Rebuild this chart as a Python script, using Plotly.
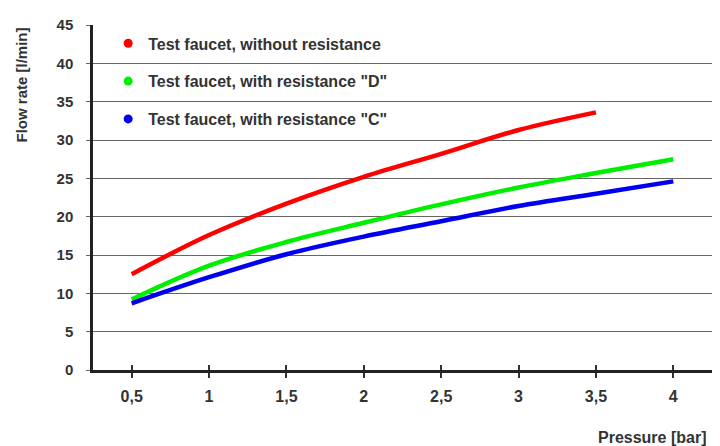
import plotly.graph_objects as go

pressure = [0.5, 1, 1.5, 2, 2.5, 3, 3.5, 4]
tick_labels = ["0,5", "1", "1,5", "2", "2,5", "3", "3,5", "4"]
y_ticks = [0, 5, 10, 15, 20, 25, 30, 35, 40, 45]

red_x = [0.5, 1, 1.5, 2, 2.5, 3, 3.5]
red_y = [12.5, 17.6, 21.7, 25.2, 28.2, 31.3, 33.6]
green_y = [9.2, 13.6, 16.7, 19.2, 21.6, 23.8, 25.7, 27.5]
blue_y = [8.7, 12.1, 15.1, 17.4, 19.4, 21.4, 23.0, 24.6]

names = ["Test faucet, without resistance",
         "Test faucet, with resistance \"D\"",
         "Test faucet, with resistance \"C\""]
colors = ["#ff0000", "#00ee00", "#0000ee"]

FONT = "Liberation Sans, Arial, sans-serif"

fig = go.Figure()
series = [(red_x, red_y), (pressure, green_y), (pressure, blue_y)]
for (xs, ys), c in zip(series, colors):
    fig.add_trace(go.Scatter(x=xs, y=ys, mode="lines", showlegend=False,
                             line=dict(color=c, width=4.5, shape="spline", smoothing=1.0),
                             hoverinfo="skip"))
for i, (n, c) in enumerate(zip(names, colors)):
    fig.add_trace(go.Scatter(x=[None], y=[None], mode="markers", name=n,
                             legendgroup=f"g{i}", xaxis="x2",
                             marker=dict(color=c, size=9)))

fig.update_layout(
    width=712, height=438,
    margin=dict(l=85, r=8, t=15, b=76),
    paper_bgcolor="white", plot_bgcolor="white",
    font=dict(family=FONT, color="#333333", size=15, weight="bold"),
    showlegend=True,
    legend=dict(x=0.0245, y=0.996, xanchor="left", yanchor="top",
                bgcolor="rgba(0,0,0,0)", tracegroupgap=14,
                font=dict(family=FONT, size=16, weight="bold"),
                itemclick=False, itemdoubleclick=False),
    xaxis=dict(range=[0.25, 4.25], tickvals=pressure, ticktext=tick_labels,
               showgrid=False, zeroline=False, showline=True, linecolor="#222222",
               linewidth=3, ticks="outside", ticklen=5, tickwidth=2, tickcolor="#333333",
               ticklabelstandoff=5, tickfont=dict(size=16, color="#333333")),
    xaxis2=dict(range=[0.25, 4.25], overlaying="x", anchor="y", side="bottom",
                tickvals=pressure, showticklabels=False, showgrid=False, zeroline=False,
                showline=False, ticks="inside", ticklen=5, tickwidth=2, tickcolor="#333333"),
    yaxis=dict(range=[0, 45], tickvals=y_ticks, showgrid=True, gridcolor="#666666",
               gridwidth=1.3, zeroline=False, showline=True, linecolor="#222222",
               linewidth=2.5, ticks="outside", ticklen=4, tickcolor="#666666",
               ticklabelstandoff=10, tickfont=dict(size=15, color="#333333")),
    annotations=[
        dict(text="Flow rate [l/min]", xref="paper", yref="paper", x=-0.115, y=0.827,
             xanchor="center", yanchor="middle", textangle=-90, showarrow=False,
             font=dict(family=FONT, size=15, color="#333333", weight="bold")),
        dict(text="Pressure [bar]", xref="paper", yref="paper", x=0.995, y=-0.196,
             xanchor="right", yanchor="middle", showarrow=False,
             font=dict(family=FONT, size=16, color="#333333", weight="bold")),
    ],
)

fig.write_html("out.html")
